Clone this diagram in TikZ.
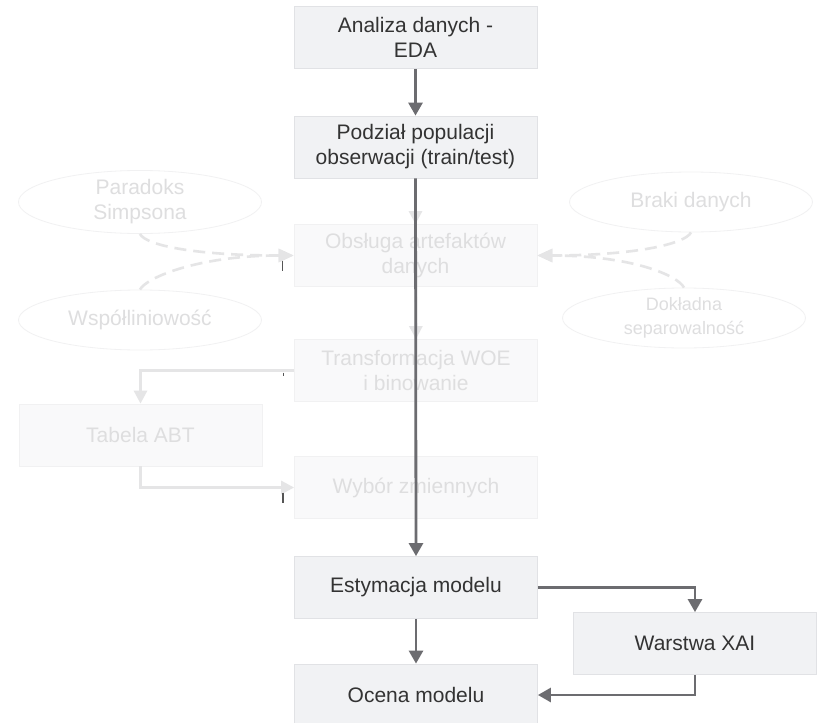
\documentclass[tikz,border=0pt]{standalone}
\usepackage{fontspec}
\setmainfont{Liberation Sans}
\usetikzlibrary{shapes.geometric,arrows.meta}
\definecolor{boxfill}{HTML}{F1F2F4}
\definecolor{boxline}{HTML}{E1E2E5}
\definecolor{ink}{HTML}{333333}
\definecolor{flow}{HTML}{6C6C70}
\definecolor{pale}{HTML}{F9F9FA}
\definecolor{paleline}{HTML}{F1F1F2}
\definecolor{paletext}{HTML}{DEDEDF}
\definecolor{palearrow}{HTML}{E5E5E6}
\definecolor{tick}{HTML}{555555}
\tikzset{
  stage/.style={rectangle, draw=boxline, line width=0.8pt, fill=boxfill,
    text=ink, align=center, minimum width=243pt, minimum height=62pt,
    inner sep=0pt, font=\fontsize{21}{25}\selectfont},
  faded/.style={stage, draw=paleline, fill=pale, text=paletext},
  issue/.style={ellipse, draw=paleline, line width=0.8pt, text=paletext,
    align=center, minimum width=243pt, minimum height=60pt, inner sep=0pt,
    font=\fontsize{21}{25}\selectfont},
  mainflow/.style={draw=flow, line width=2.8pt,
    -{Triangle[length=13pt,width=14pt]}},
  paleflow/.style={draw=palearrow, line width=2.8pt,
    -{Triangle[length=13pt,width=13pt]}},
  hint/.style={draw=palearrow, line width=2.6pt, dash pattern=on 12pt off 7pt,
    -{Triangle[length=15pt,width=13pt]}},
}
\begin{document}
\begin{tikzpicture}[x=1pt,y=-1pt]
\useasboundingbox[fill=white] (0,0) rectangle (820,723);

% pipeline stages
\node[stage] (eda)    at (415.5,37.5) {Analiza danych -\\EDA};
\node[stage] (split)  at (415.5,147)  {Podział populacji\\obserwacji (train/test)};
\node[faded] (clean)  at (415.5,255.5){Obsługa artefaktów\\danych};
\node[faded] (woe)    at (416,370.5)  {Transformacja WOE\\i binowanie};
\node[faded] (abt)    at (140.5,435)  {Tabela ABT};
\node[faded] (select) at (416,487.5)  {Wybór zmiennych};
\node[stage] (fit)    at (416,587.5)  {Estymacja modelu};
\node[stage] (xai)    at (695,643.5)  {Warstwa XAI};
\node[stage] (eval)   at (416,695)    {Ocena modelu};

% data issues
\node[issue] (simpson)  at (140,202) {Paradoks\\Simpsona};
\node[issue] (collin)   at (140,320) {Współliniowość};
\node[issue] (missing)  at (691,202) {Braki danych};
\node[issue, font=\fontsize{18}{24}\selectfont] (separ) at (684,318)
  {Dokładna\\separowalność};

% issue hints into artefact handling
\draw[hint] (simpson.south) .. controls +(6,12) and +(-95,0) .. (clean.west);
\draw[hint] (collin.north)  .. controls +(6,-12) and +(-95,0) .. (clean.west);
\draw[hint] (missing.south) .. controls +(-6,12) and +(95,0) .. (clean.east);
\draw[hint] (separ.north)   .. controls +(-6,-12) and +(95,0) .. (clean.east);

% pale flow of the intermediate steps
\draw[paleflow] (split.south) -- (clean.north);
\draw[paleflow] (clean.south) -- (woe.north);
\draw[paleflow] (woe.west) -| (abt.north);
\draw[paleflow] (abt.south) |- (select.west);

% small marks at the pale arrow heads
\draw[tick, line width=1.6pt] ([xshift=-11pt,yshift=-5pt]clean.west) -- ++(0,10);
\draw[tick, line width=1.2pt] ([xshift=-11pt,yshift=-2pt]woe.west) -- ++(0,3);
\draw[tick, line width=1.6pt] ([xshift=-11pt,yshift=-5pt]select.west) -- ++(0,10);

% main flow
\draw[mainflow] (eda.south) -- (split.north);
\draw[mainflow] (split.south) -- (fit.north);
\draw[mainflow] (fit.south) -- (eval.north);
\draw[mainflow] (fit.east) -| (xai.north);
\draw[mainflow] (xai.south) |- (eval.east);
\end{tikzpicture}
\end{document}
